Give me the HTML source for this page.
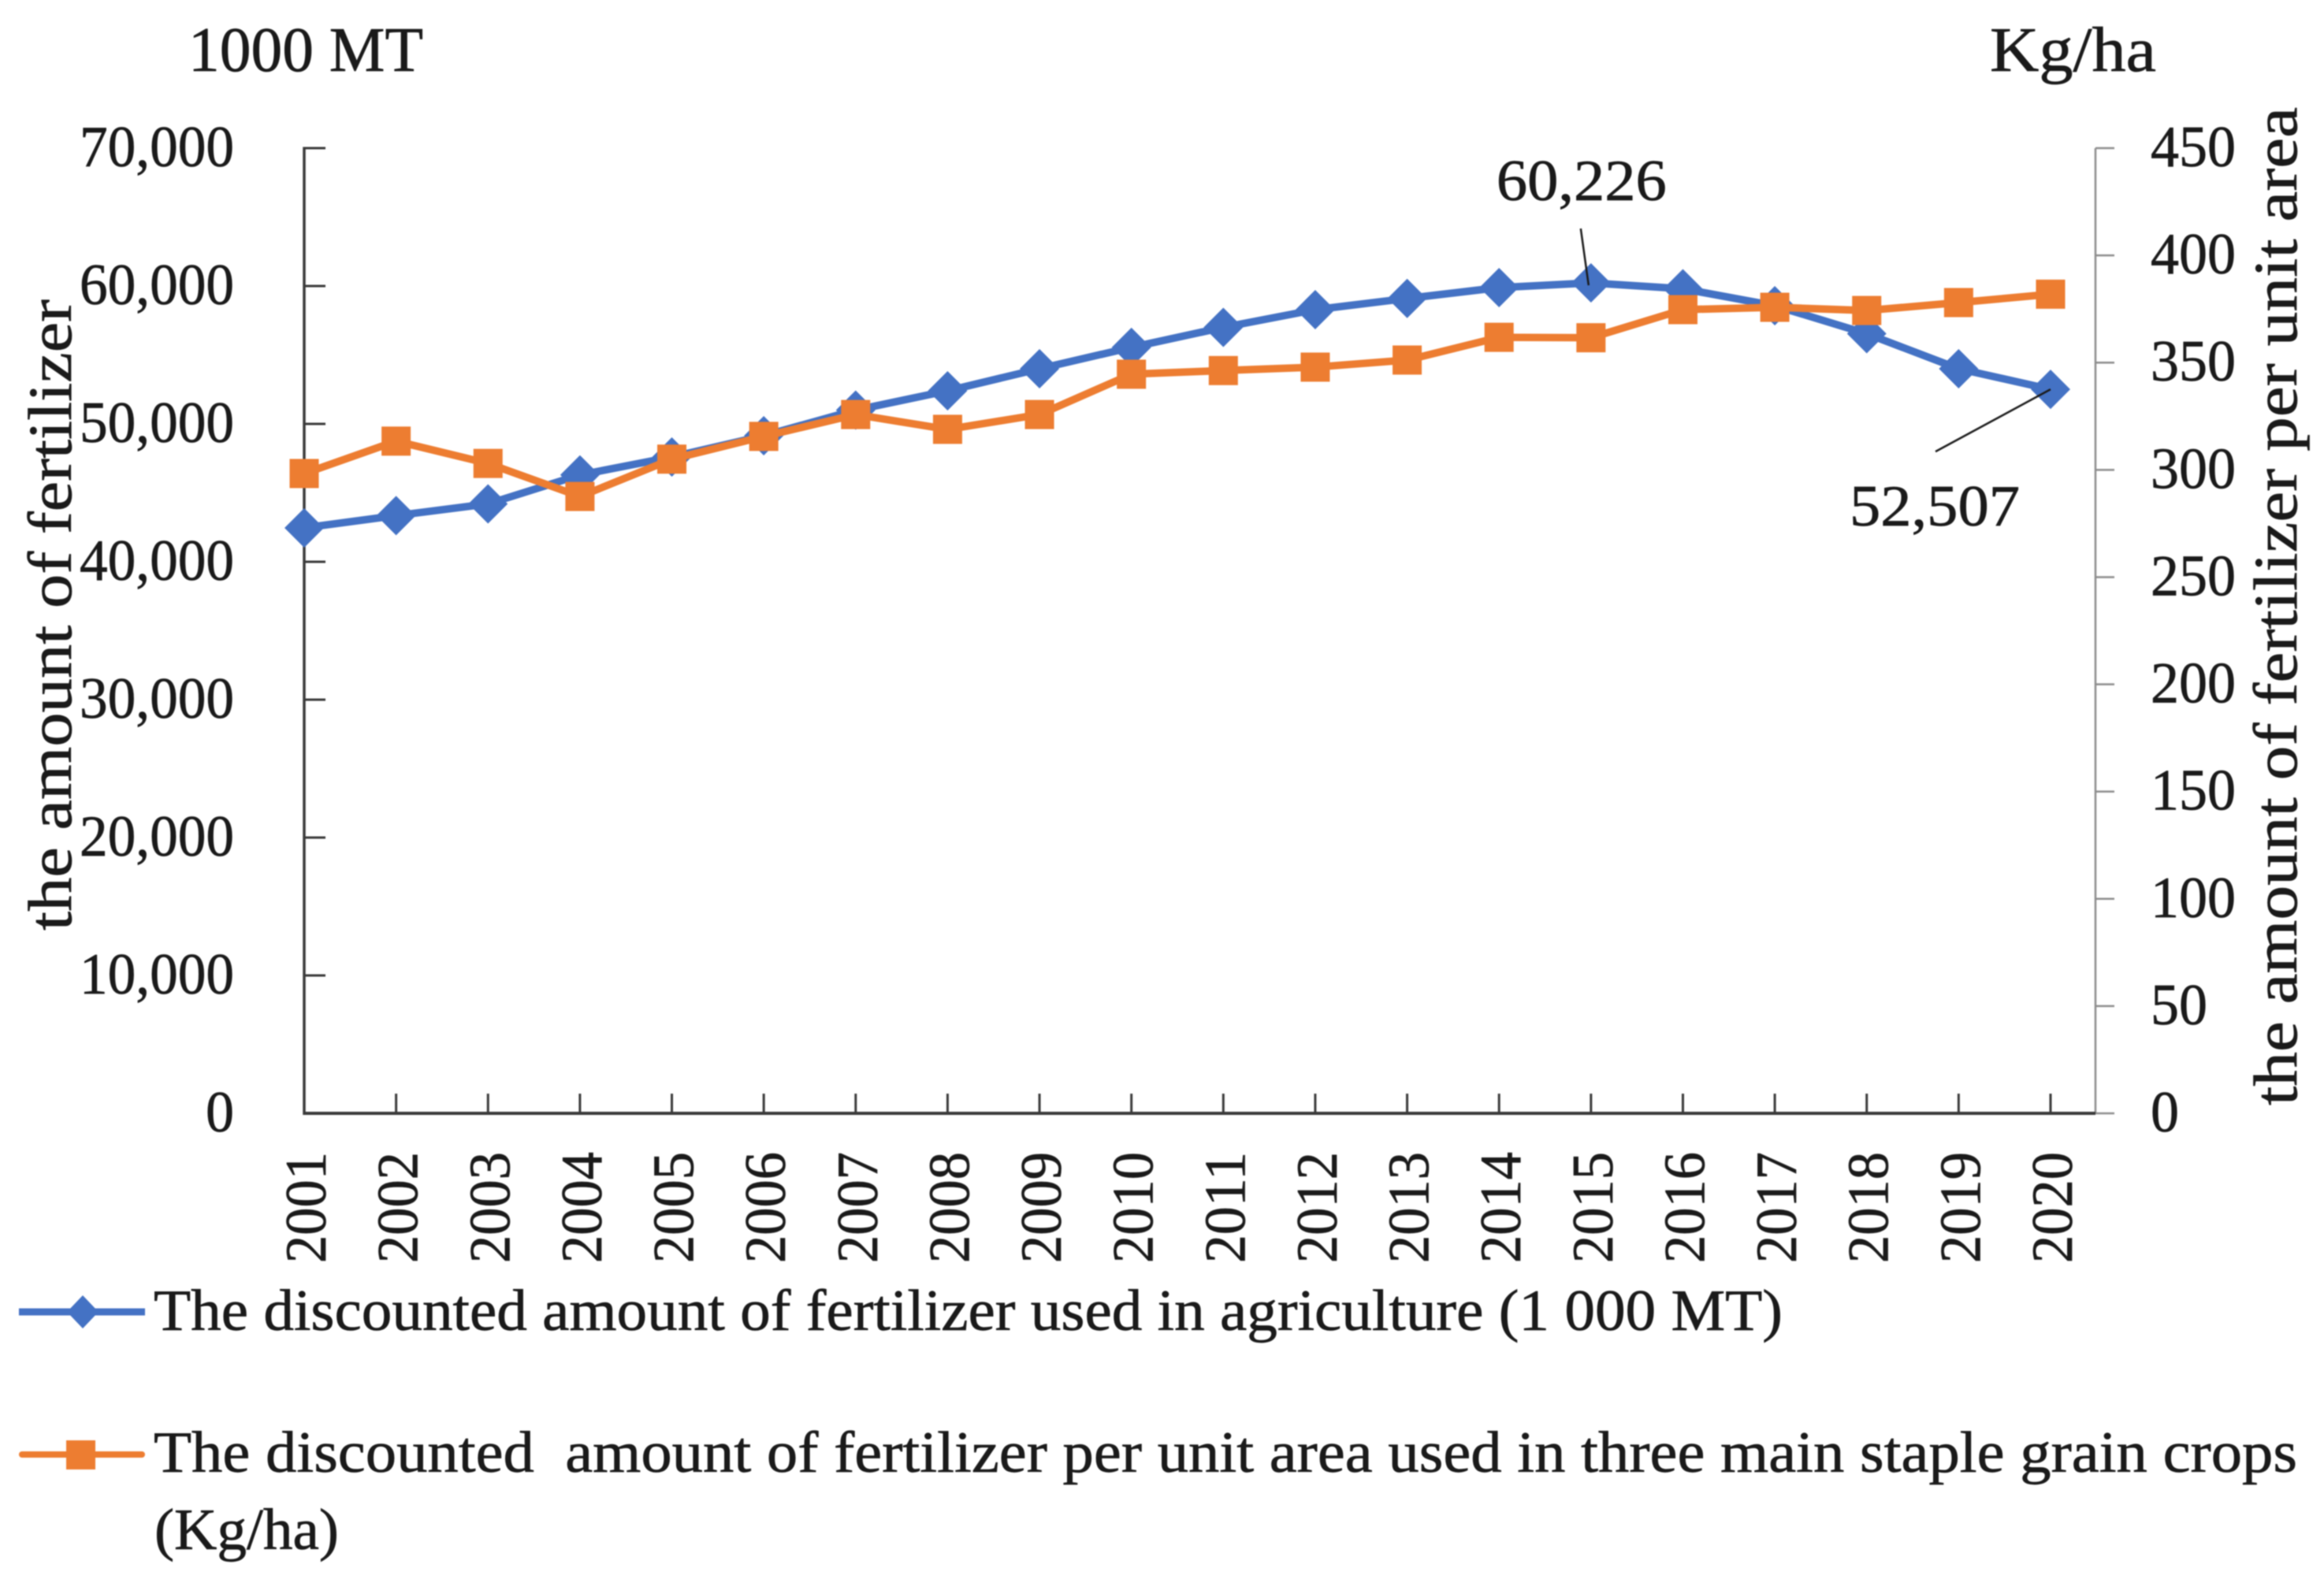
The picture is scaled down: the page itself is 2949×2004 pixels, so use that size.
<!DOCTYPE html>
<html lang="en">
<head>
<meta charset="utf-8">
<title>Fertilizer use in agriculture, 2001-2020</title>
<style>
  html, body { margin: 0; padding: 0; background: #ffffff; }
  body { width: 2949px; height: 2004px; overflow: hidden; }
  svg { display: block; filter: blur(0.7px); }
  text { font-family: "Liberation Serif", serif; fill: #1a1a1a; stroke: #1a1a1a; stroke-width: 0.7px; white-space: pre; }
  .tick { font-size: 74px; }
  .unit { font-size: 80px; }
  .title { font-size: 78px; }
  .legend { font-size: 74px; }
</style>
</head>
<body>
<svg id="chart" xmlns="http://www.w3.org/2000/svg" width="2949" height="2004" viewBox="0 0 2949 2004">
  <rect x="0" y="0" width="2949" height="2004" fill="#ffffff"/>
  <g id="axes"></g>
  <g id="series"></g>
  <g id="annotations"></g>

  <text class="unit" x="239" y="90" textLength="298" lengthAdjust="spacingAndGlyphs">1000 MT</text>
  <text class="unit" x="2525" y="90" textLength="211" lengthAdjust="spacingAndGlyphs">Kg/ha</text>
  <text class="title" transform="translate(90,1181) rotate(-90)" textLength="801" lengthAdjust="spacingAndGlyphs">the amount of fertilizer</text>
  <text class="title" transform="translate(2914,1403) rotate(-90)" textLength="1267" lengthAdjust="spacingAndGlyphs">the amount of fertilizer per unit area</text>

  <g>
    <g>
      <line x1="24" y1="1665" x2="184" y2="1665" stroke="#4472C4" stroke-width="9"/>
      <polygon points="105,1644 125,1665 105,1686 85,1665" fill="#4472C4"/>
      <text class="legend" x="195" y="1688" textLength="2067" lengthAdjust="spacingAndGlyphs">The discounted amount of fertilizer used in agriculture (1 000 MT)</text>
    </g>
    <g>
      <line x1="28" y1="1846" x2="180" y2="1846" stroke="#ED7D31" stroke-width="8" stroke-linecap="round"/>
      <rect x="84" y="1828" width="37" height="37" fill="#ED7D31"/>
      <text class="legend" x="195" y="1868" textLength="2720" lengthAdjust="spacingAndGlyphs">The discounted  amount of fertilizer per unit area used in three main staple grain crops</text>
      <text class="legend" x="196" y="1966" textLength="234" lengthAdjust="spacingAndGlyphs">(Kg/ha)</text>
    </g>
  </g>
</svg>

<script>
const years = ['2001','2002','2003','2004','2005','2006','2007','2008','2009','2010','2011','2012','2013','2014','2015','2016','2017','2018','2019','2020'];
const totalFertilizer = [42460,43350,44200,46300,47600,49143,51000,52400,54000,55550,57000,58286,59100,59886,60226,59800,58570,56540,54000,52507];
const perAreaFertilizer = [298.3,313.4,303,287.6,305,315.6,325.8,318.9,325.8,344.6,346.3,347.9,351.2,361.8,361.6,374.7,375.8,374.3,378,381.9];
const leftTicks = [0,10000,20000,30000,40000,50000,60000,70000];
const rightTicks = [0,50,100,150,200,250,300,350,400,450];
const calloutYears = ['2015','2020'];

const NS = 'http://www.w3.org/2000/svg';
const plotLeft = 386, plotRight = 2659, plotTop = 188, plotBottom = 1413, lastCatX = 2602;
const leftMax = 70000, rightMax = 450;
const axisDark = '#3a3a3a', axisGray = '#8c8c8c';

function xScale(i) { return plotLeft + i * (lastCatX - plotLeft) / (years.length - 1); }
function yLeft(v) { return plotBottom - v / leftMax * (plotBottom - plotTop); }
function yRight(v) { return plotBottom - v / rightMax * (plotBottom - plotTop); }
function fmt(v) { return String(v).replace(/\B(?=(\d{3})+$)/g, ','); }

function make(tag, attrs, parent) {
  const el = document.createElementNS(NS, tag);
  for (const k in attrs) el.setAttribute(k, attrs[k]);
  parent.appendChild(el);
  return el;
}

const axes = document.getElementById('axes');
const series = document.getElementById('series');
const annotations = document.getElementById('annotations');

// Right axis (gray, outward ticks)
const rightAxis = make('line', {x1: plotRight, y1: plotTop, x2: plotRight, y2: plotBottom, stroke: axisGray, 'stroke-width': 2.5}, axes);


rightTicks.forEach(function (t) {
  const y = yRight(t);
  const tick = make('line', {x1: plotRight, y1: y, x2: plotRight + 24, y2: y, stroke: axisGray, 'stroke-width': 2.5}, axes);
  
  
  const s = String(t);
  const label = make('text', {class: 'tick', x: 2729, y: y + 23, textLength: s.length * 36, lengthAdjust: 'spacingAndGlyphs'}, axes);
  label.textContent = s;
  
  
});

// Left axis (dark, inward ticks)
const leftAxis = make('line', {x1: plotLeft, y1: plotTop - 1.5, x2: plotLeft, y2: plotBottom + 2, stroke: axisDark, 'stroke-width': 3.5}, axes);


leftTicks.forEach(function (t) {
  const y = yLeft(t);
  if (t > 0) {
    const tick = make('line', {x1: plotLeft, y1: y, x2: plotLeft + 27, y2: y, stroke: axisDark, 'stroke-width': 3}, axes);
    
    
  }
  const s = fmt(t);
  const w = t === 0 ? 36 : 196;
  const label = make('text', {class: 'tick', x: 297 - w, y: y + 23, textLength: w, lengthAdjust: 'spacingAndGlyphs'}, axes);
  label.textContent = s;
  
  
});

// X axis
const xAxis = make('line', {x1: plotLeft, y1: plotBottom, x2: plotRight, y2: plotBottom, stroke: axisDark, 'stroke-width': 4}, axes);


years.forEach(function (yr, i) {
  const x = xScale(i);
  if (i > 0) {
    const tick = make('line', {x1: x, y1: plotBottom, x2: x, y2: plotBottom - 25, stroke: axisDark, 'stroke-width': 3}, axes);
    
    
  }
  const label = make('text', {class: 'tick', transform: 'translate(' + (x + 27) + ',1603) rotate(-90)', textLength: 141, lengthAdjust: 'spacingAndGlyphs'}, axes);
  label.textContent = yr;
  
  
});

// Blue series
const bluePts = totalFertilizer.map(function (v, i) { return xScale(i) + ',' + yLeft(v); }).join(' ');
const blueLine = make('polyline', {points: bluePts, fill: 'none', stroke: '#4472C4', 'stroke-width': 9.5, 'stroke-linejoin': 'round'}, series);


totalFertilizer.forEach(function (v, i) {
  const cx = xScale(i), cy = yLeft(v), r = 25;
  const mark = make('polygon', {points: cx + ',' + (cy - r) + ' ' + (cx + r) + ',' + cy + ' ' + cx + ',' + (cy + r) + ' ' + (cx - r) + ',' + cy, fill: '#4472C4'}, series);
  
  
});

// Orange series
const orangePts = perAreaFertilizer.map(function (v, i) { return xScale(i) + ',' + yRight(v); }).join(' ');
const orangeLine = make('polyline', {points: orangePts, fill: 'none', stroke: '#ED7D31', 'stroke-width': 9.5, 'stroke-linejoin': 'round'}, series);


perAreaFertilizer.forEach(function (v, i) {
  const cx = xScale(i), cy = yRight(v), s = 37;
  const mark = make('rect', {x: cx - s / 2, y: cy - s / 2, width: s, height: s, fill: '#ED7D31'}, series);
  
  
});

// Callouts, positioned relative to the data point they label
const calloutOffsets = {
  '2015': {lx: -13, ly: -69, ex: -3, ey: 3, tx: -120, ty: -105, w: 216},
  '2020': {lx: -146, ly: 79, ex: 0, ey: 0, tx: -255, ty: 173, w: 216}
};
calloutYears.forEach(function (yr) {
  const i = years.indexOf(yr);
  const v = totalFertilizer[i];
  const px = xScale(i), py = yLeft(v);
  const o = calloutOffsets[yr];
  const leader = make('line', {x1: px + o.lx, y1: py + o.ly, x2: px + o.ex, y2: py + o.ey, stroke: '#1a1a1a', 'stroke-width': 2.5}, annotations);
  
  
  const label = make('text', {class: 'tick', x: px + o.tx, y: py + o.ty, textLength: o.w, lengthAdjust: 'spacingAndGlyphs'}, annotations);
  label.textContent = fmt(v);
  
  
});
</script>
</body>
</html>
